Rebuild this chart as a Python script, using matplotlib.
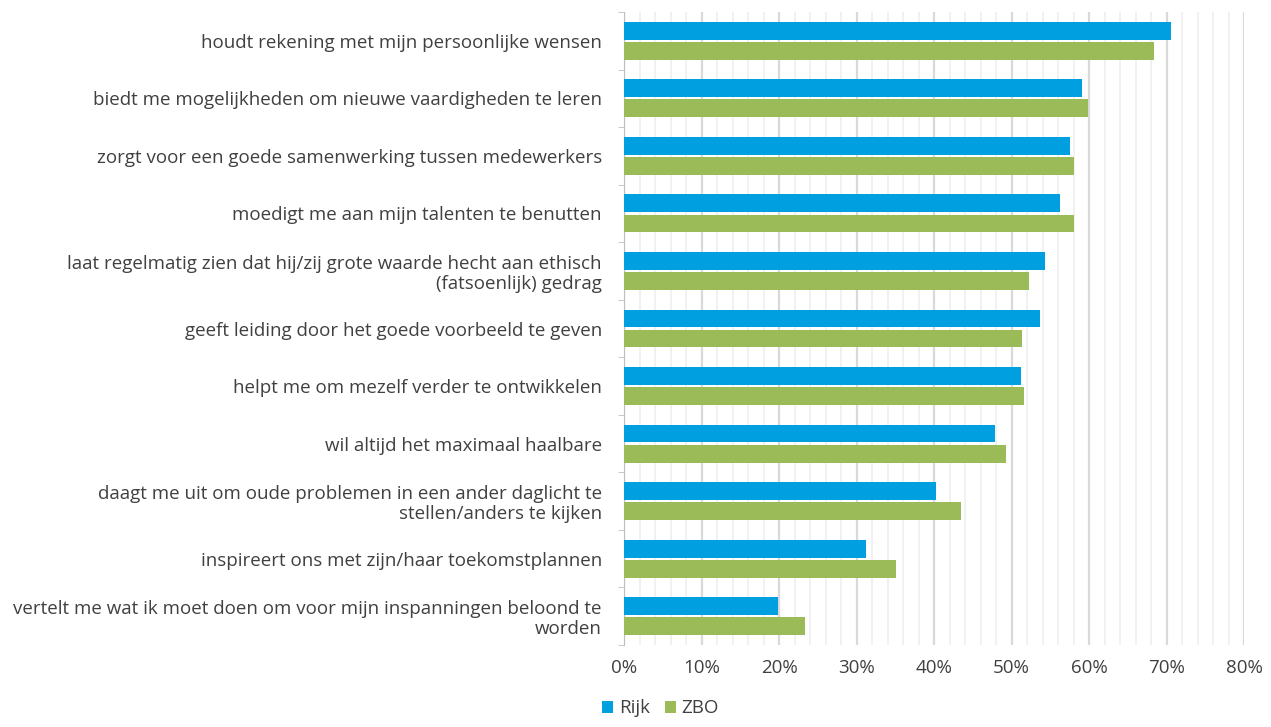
import numpy as np
import matplotlib.pyplot as plt
from matplotlib.ticker import MultipleLocator, FuncFormatter

plt.rcParams['font.family'] = ['Open Sans', 'DejaVu Sans']

# statements, top to bottom
labels = [
    "houdt rekening met mijn persoonlijke wensen",
    "biedt me mogelijkheden om nieuwe vaardigheden te leren",
    "zorgt voor een goede samenwerking tussen medewerkers",
    "moedigt me aan mijn talenten te benutten",
    "laat regelmatig zien dat hij/zij grote waarde hecht aan ethisch\n(fatsoenlijk) gedrag",
    "geeft leiding door het goede voorbeeld te geven",
    "helpt me om mezelf verder te ontwikkelen",
    "wil altijd het maximaal haalbare",
    "daagt me uit om oude problemen in een ander daglicht te\nstellen/anders te kijken",
    "inspireert ons met zijn/haar toekomstplannen",
    "vertelt me wat ik moet doen om voor mijn inspanningen beloond te\nworden",
]
rijk = [70.6, 59.1, 57.6, 56.3, 54.3, 53.7, 51.2, 47.9, 40.3, 31.2, 19.9]
zbo = [68.4, 59.9, 58.1, 58.1, 52.3, 51.4, 51.6, 49.3, 43.5, 35.1, 23.4]

blue = '#009FDF'
green = '#9BBB59'
text_col = '#404040'

fig = plt.figure(figsize=(12.71, 7.27), dpi=100)
ax = fig.add_axes([624 / 1271, 82 / 727, 620 / 1271, 633 / 727])

y = np.arange(len(labels))
h = 0.31
ax.barh(y - 0.175, rijk, height=h, color=blue, label='Rijk', zorder=3)
ax.barh(y + 0.175, zbo, height=h, color=green, label='ZBO', zorder=3)

ax.set_ylim(len(labels) - 0.5, -0.5)
ax.set_xlim(0, 80)
ax.set_yticks(y)
ax.set_yticklabels(labels, fontsize=13.5, color=text_col, linespacing=1.15)
ax.set_yticks(np.arange(-0.5, len(labels), 1), minor=True)
ax.tick_params(axis='y', which='major', length=0, pad=16)
ax.tick_params(axis='y', which='minor', length=4, color='#BFBFBF')

ax.xaxis.set_major_locator(MultipleLocator(10))
ax.xaxis.set_minor_locator(MultipleLocator(2))
ax.xaxis.set_major_formatter(FuncFormatter(lambda v, p: f'{v:.0f}%'))
ax.tick_params(axis='x', which='both', length=0, labelsize=13.5, labelcolor=text_col, pad=10)
ax.grid(axis='x', which='major', color='#D9D9D9', linewidth=1.6, zorder=0)
ax.grid(axis='x', which='minor', color='#EFEFEF', linewidth=1.2, zorder=0)

for s in ['top', 'right', 'bottom']:
    ax.spines[s].set_visible(False)
ax.spines['left'].set_color('#BFBFBF')

fig.legend(loc='lower left', bbox_to_anchor=(585 / 1271, -0.01), ncol=2, frameon=False,
           fontsize=13.5, labelcolor=text_col, handlelength=0.6, handleheight=0.6,
           handletextpad=0.3, columnspacing=0.8)

fig.savefig('out.png', dpi=100)
